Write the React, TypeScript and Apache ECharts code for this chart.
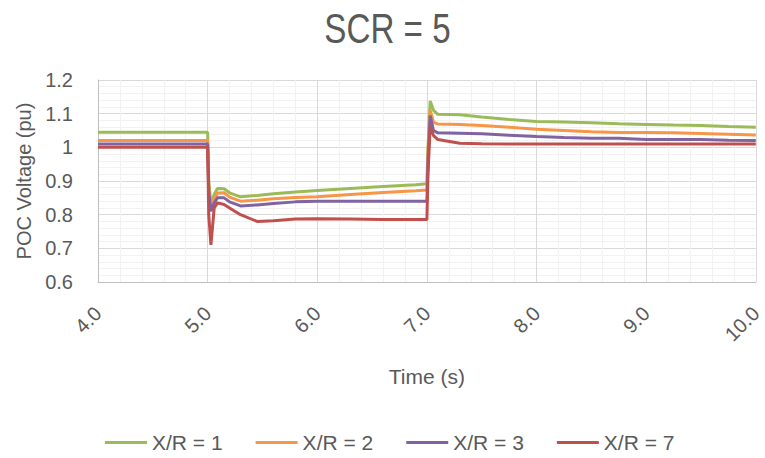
import React, { useEffect, useRef } from "react";
import * as echarts from "echarts";

const title = "SCR = 5";
const seriesNames = ["X/R = 1", "X/R = 2", "X/R = 3", "X/R = 7"];
const colors = ["#9BBB59", "#F79646", "#8064A2", "#C0504D"];

const time = [
  4.0, 5.0, 5.01, 5.03, 5.06, 5.09, 5.15, 5.2, 5.3, 5.45, 5.6, 5.8, 6.0, 6.3, 6.6, 6.9, 7.0,
  7.01, 7.03, 7.06, 7.1, 7.3, 7.5, 7.75, 8.0, 8.25, 8.5, 8.75, 9.0, 9.25, 9.5, 9.75, 10.0,
];

const xr1 = [
  1.045, 1.045, 0.9, 0.83, 0.86, 0.878, 0.877, 0.865, 0.853, 0.857, 0.862, 0.867, 0.872, 0.878, 0.884, 0.889, 0.892,
  1.0, 1.138, 1.11, 1.098, 1.097, 1.09, 1.083, 1.077, 1.075, 1.073, 1.07, 1.068, 1.066, 1.065, 1.062, 1.06,
];
const xr2 = [
  1.02, 1.02, 0.88, 0.82, 0.845, 0.864, 0.865, 0.852, 0.84, 0.843, 0.847, 0.851, 0.853, 0.86, 0.866, 0.871, 0.873,
  0.98, 1.11, 1.075, 1.069, 1.068, 1.065, 1.06, 1.054, 1.05, 1.046, 1.044, 1.044, 1.043, 1.041, 1.039, 1.037,
];
const xr3 = [
  1.01, 1.01, 0.87, 0.81, 0.835, 0.85, 0.85, 0.838, 0.826, 0.829, 0.833, 0.838, 0.84, 0.84, 0.84, 0.84, 0.84,
  0.96, 1.094, 1.05, 1.043, 1.042, 1.04, 1.036, 1.032, 1.029, 1.027, 1.027, 1.023, 1.023, 1.023, 1.021, 1.02,
];
const xr7 = [
  1.0, 1.0, 0.8, 0.71, 0.82, 0.835, 0.83, 0.82, 0.8, 0.78, 0.782, 0.787, 0.788, 0.787, 0.786, 0.786, 0.786,
  0.92, 1.062, 1.035, 1.023, 1.012, 1.011, 1.01, 1.01, 1.01, 1.01, 1.01, 1.01, 1.01, 1.01, 1.01, 1.01,
];
const values = [xr1, xr2, xr3, xr7];

const FONT = "'Liberation Sans', Arial, sans-serif";
const TEXT = "#595959";

export default function App() {
  const ref = useRef<HTMLDivElement>(null);
  useEffect(() => {
    if (!ref.current) return;
    const chart = echarts.init(ref.current, null, { renderer: "svg" });
    chart.setOption({
      animation: false,
      textStyle: { fontFamily: FONT },
      graphic: [
        {
          type: "text",
          x: 387.5,
          y: 28.5,
          scaleX: 0.79,
          style: {
            text: title,
            fontFamily: FONT,
            fontSize: 42,
            fill: TEXT,
            textAlign: "center",
            textVerticalAlign: "middle",
          },
        },
      ],
      legend: {
        top: 427,
        left: 100,
        itemWidth: 42,
        itemHeight: 3,
        itemGap: 33,
        icon: "rect",
        data: seriesNames,
        textStyle: { fontFamily: FONT, fontSize: 21, color: TEXT },
      },
      grid: { left: 98, right: 7, top: 80, bottom: 176 },
      xAxis: {
        type: "value",
        min: 4,
        max: 10,
        interval: 1,
        name: "Time (s)",
        nameLocation: "middle",
        nameGap: 84,
        nameTextStyle: { fontFamily: FONT, fontSize: 21, color: TEXT },
        axisLine: { show: true, lineStyle: { color: "#BFBFBF", width: 1 } },
        axisTick: { show: false },
        axisLabel: {
          rotate: 45,
          margin: 28,
          fontFamily: FONT,
          fontSize: 20,
          color: TEXT,
          formatter: (v: number) => v.toFixed(1),
        },
        splitLine: { show: true, lineStyle: { color: "#D9D9D9", width: 1 } },
        minorTick: { show: false, splitNumber: 5 },
        minorSplitLine: { show: true, lineStyle: { color: "#F2F2F2", width: 1 } },
      },
      yAxis: {
        type: "value",
        min: 0.6,
        max: 1.2,
        interval: 0.1,
        name: "POC Voltage (pu)",
        nameLocation: "middle",
        nameGap: 64,
        nameTextStyle: { fontFamily: FONT, fontSize: 20, color: TEXT },
        axisLine: { show: true, lineStyle: { color: "#BFBFBF", width: 1 } },
        axisTick: { show: false },
        axisLabel: {
          margin: 25,
          fontFamily: FONT,
          fontSize: 20,
          color: TEXT,
          formatter: (v: number) => String(Math.round(v * 10) / 10),
        },
        splitLine: { show: true, lineStyle: { color: "#D9D9D9", width: 1 } },
        minorTick: { show: false, splitNumber: 5 },
        minorSplitLine: { show: true, lineStyle: { color: "#F2F2F2", width: 1 } },
      },
      series: seriesNames.map((name, i) => ({
        name,
        type: "line",
        data: time.map((t, j) => [t, values[i][j]]),
        showSymbol: false,
        symbol: "none",
        color: colors[i],
        lineStyle: { color: colors[i], width: 3 },
        z: 2 + i,
      })),
    });
    return () => chart.dispose();
  }, []);
  return (
    <div
      ref={ref}
      style={{ position: "absolute", left: 0, top: 0, width: 765, height: 458 }}
    />
  );
}
